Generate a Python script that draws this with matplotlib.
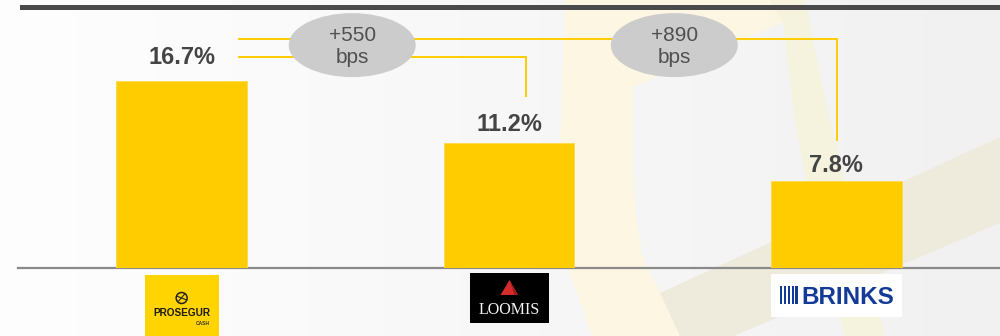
import matplotlib
matplotlib.use("Agg")
import matplotlib.pyplot as plt
import numpy as np
from matplotlib.patches import Ellipse, Rectangle, Polygon, Circle

plt.rcParams['font.family'] = ['Liberation Sans', 'DejaVu Sans']

# ---- data -------------------------------------------------------------
companies = ["PROSEGUR", "LOOMIS", "BRINKS"]
ebitda_margin = [16.7, 11.2, 7.8]          # %
gap_labels = [f"+{round((ebitda_margin[0] - m) * 100)}" for m in ebitda_margin[1:]]

# ---- figure -----------------------------------------------------------
W, H = 1000, 336
fig = plt.figure(figsize=(W / 100, H / 100), dpi=100)

# background layer in pixel units
bg = fig.add_axes([0, 0, 1, 1])
bg.set_xlim(0, W)
bg.set_ylim(H, 0)
bg.axis("off")
g = np.linspace(0, 1, 512)
left_c = np.array([254, 254, 254]) / 255
right_c = np.array([241, 241, 241]) / 255
grad = (left_c[None, :] * (1 - g[:, None]) + right_c[None, :] * g[:, None])[None, :, :]
bg.imshow(grad, extent=[0, W, H, 0], aspect="auto", zorder=0)

# faint watermark shapes
wm_left = [(565, 0), (795, 0), (783, 22), (633, 87), (634, 200), (642, 255),
           (660, 293), (680, 336), (592, 336), (568, 267), (560, 150)]
wm_right = [(770, 0), (805, 0), (825, 100), (850, 200), (885, 336), (845, 336),
            (815, 230), (795, 120), (783, 22)]
wm_diag = [(660, 293), (1000, 137), (1000, 223), (734, 336), (680, 336)]
bg.add_patch(Polygon(wm_left, closed=True, facecolor="#fdf7e0", alpha=0.9,
                     edgecolor="none", zorder=1))
bg.add_patch(Polygon(wm_right, closed=True, facecolor="#f6f2dc", alpha=0.9,
                     edgecolor="none", zorder=1))
bg.add_patch(Polygon(wm_diag, closed=True, facecolor="#eeebdc", alpha=0.95,
                     edgecolor="none", zorder=1))

# dark header rule
bg.add_patch(Rectangle((20, 5), 980, 5, facecolor="#4a4a4a", edgecolor="none", zorder=2))

# ---- main bar axes ----------------------------------------------------
PX_PER_UNIT = 11.2
ax = fig.add_axes([18 / W, (H - 268) / H, 982 / W, 258 / H])
ax.patch.set_alpha(0)
ax.set_xlim(-0.5, 2.5)
ax.set_ylim(0, 258 / PX_PER_UNIT)
x = np.arange(len(companies))
ax.bar(x, ebitda_margin, width=0.4, color="#FFCC00", edgecolor="#FFD94A",
       linewidth=0.6, zorder=3)

for s in ("top", "left", "right"):
    ax.spines[s].set_visible(False)
ax.spines["bottom"].set_color("#8a8a8a")
ax.spines["bottom"].set_linewidth(1.6)
ax.set_xticks([])
ax.set_yticks([])

# value labels (baseline offsets in pixels above bar tops)
label_gap_px = [16.5, 12, 9]
for i, (v, gpx) in enumerate(zip(ebitda_margin, label_gap_px)):
    ax.annotate(f"{v:.1f}%", (i, v), xytext=(0, gpx * 0.72), textcoords="offset points",
                ha="center", va="baseline", fontsize=17, fontweight="bold",
                color="#444444", zorder=5)

# comparison brackets
yel = "#FFCC00"
y_hi, y_lo = 20.45, 18.84
x_start = 0.176
ax.plot([x_start, 2.003, 2.003], [y_hi, y_hi, 11.43], color=yel, lw=1.4,
        solid_joinstyle="miter", zorder=3)
ax.plot([x_start, 1.052, 1.052], [y_lo, y_lo, 15.36], color=yel, lw=1.4,
        solid_joinstyle="miter", zorder=3)

# bps call-outs
for cx, lab in zip([0.521, 1.505], gap_labels):
    ax.add_patch(Ellipse((cx, 19.9), 0.388, 5.71, facecolor="#cccccc",
                         edgecolor="none", zorder=4))
    ax.text(cx, (268 - 41) / PX_PER_UNIT, lab, ha="center", va="baseline",
            fontsize=15, color="#505050", zorder=5)
    ax.text(cx, (268 - 63) / PX_PER_UNIT, "bps", ha="center", va="baseline",
            fontsize=15, color="#505050", zorder=5)

# ---- company logos under each bar -------------------------------------
def logo_axes(i, w, top, h):
    cx = ax.transData.transform((i, 0))[0]
    la = fig.add_axes([(cx - w / 2) / W, (H - top - h) / H, w / W, h / H])
    la.set_xlim(0, w)
    la.set_ylim(h, 0)
    la.axis("off")
    return la

# Prosegur
la = logo_axes(0, 74, 275, 70)
la.add_patch(Rectangle((0, 0), 74, 70, facecolor="#FFD400", edgecolor="none"))
la.add_patch(Circle((37, 23), 5.5, facecolor="none", edgecolor="#222222", lw=1.1))
la.plot([32, 42], [21, 25], color="#222222", lw=0.8)
la.plot([34, 40], [26, 19], color="#222222", lw=0.8)
la.text(37, 41, companies[0], ha="center", va="baseline", fontsize=7.2,
        fontweight="bold", color="#1a1a1a")
la.text(58, 50, "CASH", ha="center", va="baseline", fontsize=3.5,
        fontweight="bold", color="#333333")

# Loomis
la = logo_axes(1, 79, 272.5, 50.5)
la.add_patch(Rectangle((0, 0), 79, 50.5, facecolor="#000000", edgecolor="none"))
la.add_patch(Polygon([(40, 7.5), (31, 22.5), (48.5, 22.5)], closed=True,
                     facecolor="#d42b2b", edgecolor="none"))
la.add_patch(Polygon([(40, 7.5), (48.5, 22.5), (45, 22.5)], closed=True,
                     facecolor="#a41c1c", edgecolor="none"))
la.text(40, 41, companies[1], ha="center", va="baseline", fontsize=11.5,
        family="Liberation Serif", color="#f2f2f2")

# Brink's
la = logo_axes(2, 131, 274, 43)
la.add_patch(Rectangle((0, 0), 131, 43, facecolor="#ffffff", edgecolor="none"))
for k in range(5):
    la.add_patch(Rectangle((9 + k * 3.9, 12), 2.2, 18, facecolor="#123a96",
                           edgecolor="none"))
la.text(76.5, 30, companies[2], ha="center", va="baseline", fontsize=17.5,
        fontweight="bold", color="#123a96")

fig.savefig("out.png", dpi=100)
